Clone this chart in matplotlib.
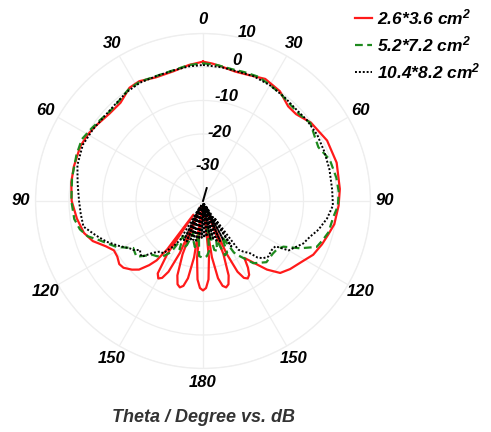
import numpy as np
import matplotlib
matplotlib.use("Agg")
import matplotlib.pyplot as plt
from matplotlib.lines import Line2D

plt.rcParams['font.family'] = ['Liberation Sans', 'DejaVu Sans']
plt.rcParams['font.weight'] = 'bold'
plt.rcParams['font.style'] = 'italic'
plt.rcParams['mathtext.fontset'] = 'custom'
plt.rcParams['mathtext.rm'] = 'Liberation Sans:bold:italic'
plt.rcParams['mathtext.it'] = 'Liberation Sans:bold:italic'
plt.rcParams['mathtext.bf'] = 'Liberation Sans:bold:italic'

# ---------------- data (theta in degrees, gain in dB) ----------------
labels = ['2.6*3.6 cm$^{2}$', '5.2*7.2 cm$^{2}$', '10.4*8.2 cm$^{2}$']

red_theta = [0, 4, 8, 14, 20, 27, 35, 42, 47, 54, 64, 74, 85, 92, 100, 105, 110,
             116, 122, 128, 133, 137, 141, 144, 146, 148, 150, 152, 154, 156, 157.5,
             159, 161, 163, 165, 167, 169, 171, 172.5, 174, 176, 178, 180, 182, 184,
             186, 187.5, 189, 191, 193, 195, 197, 199, 201, 202.5, 204, 206, 208, 210,
             212, 214, 215, 216.5, 218, 220, 223, 226, 230, 233, 237, 241, 245, 250,
             255, 262, 270, 278, 285, 294, 300, 305, 313, 320, 327, 332, 339, 347,
             354, 360]
red_db = [1.6, 1.1, 0.5, -0.2, 0.0, 0.9, 0.0, -2.0, -2.0, -0.2, 1.2, 1.5, 1.0, 0.5,
          -0.2, -1.3, -2.2, -3.4, -5.5, -7.0, -8.5, -12.0, -16.5, -19.0, -16.0, -14.0,
          -13.3, -14.0, -16.5, -23.0, -38.0, -23.0, -16.5, -14.0, -13.3, -14.0, -16.5,
          -23.0, -38.0, -23.0, -16.5, -14.0, -13.3, -14.0, -16.5, -23.0, -38.0, -23.0,
          -16.5, -14.0, -13.3, -14.0, -16.5, -23.0, -38.0, -23.0, -16.5, -14.0, -13.3,
          -14.5, -21.0, -35.0, -22.0, -17.5, -15.0, -12.0, -10.5, -9.0, -8.7, -9.5,
          -9.6, -8.0, -5.0, -3.2, -2.0, -0.8, -0.3, -0.1, 0.1, -0.3, -0.9, -1.8, -1.7,
          0.3, 0.5, -0.5, -0.3, 0.8, 1.6]

green_theta = [0, 6, 12, 18, 24, 30, 36, 42, 48, 54, 60, 65, 72, 80, 86, 92, 97, 104,
               108, 112, 116, 119.6, 123, 127, 134, 141, 146, 149, 152, 155, 158, 161,
               164, 167, 170, 173, 176, 180, 184, 187, 190, 194, 197, 200, 203, 206,
               209, 212, 216, 220, 223, 227, 230, 233, 236, 239, 242, 246, 249, 253,
               257, 262, 270, 280, 290, 297, 303, 308, 314, 320, 326, 332, 340, 347,
               354, 360]
green_db = [1.1, 0.8, 0.3, 0.4, 0.6, 0.0, -0.5, -1.2, -1.3, -0.4, -1.5, -2.0, -0.2,
            0.4, 0.6, 0.3, -0.8, -1.4, -2.4, -3.4, -7.8, -12.4, -13.6, -13.9, -13.7,
            -16.1, -20.0, -22.0, -28.0, -23.0, -22.5, -28.0, -24.5, -25.0, -32.0, -25.0,
            -23.5, -23.0, -23.5, -30.0, -26.0, -28.0, -30.0, -26.0, -24.5, -24.0, -28.0,
            -22.0, -19.5, -18.5, -18.0, -16.0, -14.1, -14.5, -14.9, -13.0, -10.8, -8.8,
            -7.1, -4.0, -2.3, -1.2, -0.7, -0.3, 0.2, 0.6, -0.3, -0.9, -1.4, -1.0, 0.0,
            0.3, -0.2, 0.0, 0.8, 1.1]

black_theta = [0, 8, 15, 22, 30, 38, 45, 52, 60, 68, 76, 85, 92, 98, 104, 108.4, 113,
               117.6, 120, 122, 125.5, 130.5, 133.5, 136, 138, 141.5, 144, 146, 148,
               150, 152.5, 155, 157, 159, 161, 163, 165, 167, 169, 171, 174, 176, 178,
               180, 182, 184, 186, 188, 190, 192, 194, 196, 198, 200, 202, 204, 206,
               208, 210.5, 213, 217.2, 220.3, 224, 227.7, 230, 232, 235, 237, 242, 247,
               252, 257.9, 264, 270, 278, 286, 295, 303, 310, 318, 325, 332, 340, 348,
               354, 360]
black_db = [0.6, 0.3, 0.0, 0.2, -0.1, -0.6, -1.0, -0.7, -0.6, -0.9, -1.1, -1.3, -1.2,
            -2.6, -4.5, -6.3, -7.5, -9.6, -10.5, -14.5, -14.8, -14.4, -15.2, -16.5,
            -19.0, -20.7, -22.0, -34.0, -24.0, -38.0, -26.9, -38.0, -27.0, -39.0, -27.5,
            -38.0, -28.0, -39.0, -28.5, -39.0, -29.3, -39.0, -29.0, -39.0, -29.0, -39.0,
            -28.5, -39.0, -28.0, -39.0, -28.0, -38.0, -27.5, -39.0, -27.0, -38.0, -27.0,
            -38.0, -26.5, -24.0, -20.4, -20.2, -18.5, -15.3, -15.5, -16.2, -14.5, -14.0,
            -11.5, -8.8, -6.5, -3.5, -3.3, -3.0, -2.2, -1.0, -0.4, -0.8, -1.2, -1.0,
            -0.3, 0.0, -0.2, 0.0, 0.4, 0.6]

spike_theta = [16, 16]
spike_db = [-40, -36]

angle_ticks = [0, 30, 60, 90, 120, 150, 180, 210, 240, 270, 300, 330]
angle_labels = ['0', '30', '60', '90', '120', '150', '180', '150', '120', '90', '60', '30']
r_ticks = [-30, -20, -10, 0, 10]
r_labels = ['-30', '-20', '-10', '0', '10']

# ---------------- figure ----------------
fig = plt.figure(figsize=(4.91, 4.32), dpi=100)
ax = fig.add_axes([0.0723, 0.147, 0.6823, 0.7755], projection='polar')
ax.set_theta_zero_location('N')
ax.set_theta_direction(-1)
ax.set_rlim(-40, 10)

grid_col = '#eeeeee'
ax.set_xticks(np.deg2rad(angle_ticks))
ax.set_xticklabels([])
ax.set_yticks(r_ticks)
ax.set_yticklabels([])
ax.grid(True, color=grid_col, lw=0.9)
ax.spines['polar'].set_color(grid_col)
ax.spines['polar'].set_linewidth(0.9)

ax.plot(np.deg2rad(red_theta), red_db, color='#ff1a1a', lw=1.6, label=labels[0])
ax.plot(np.deg2rad(green_theta), green_db, color='#1e8a1e', lw=1.6,
        linestyle=(0, (3.5, 2.0)), label=labels[1])
ax.plot(np.deg2rad(black_theta), black_db, color='black', lw=1.4,
        linestyle=(0, (1, 1)), label=labels[2])
ax.plot(np.deg2rad(spike_theta), spike_db, color='black', lw=1.4)

# angular labels
for a, lab in zip(angle_ticks, angle_labels):
    ax.text(np.deg2rad(a), 14.3, lab, ha='center', va='center', fontsize=12,
            fontweight='bold', fontstyle='italic', clip_on=False)

# radial labels
r_label_pos = [(8, -29.2), (13.8, -18.8), (13.0, -8.1), (13.6, 3.0), (14.6, 12.1)]
for (a, rr), lab in zip(r_label_pos, r_labels):
    ax.text(np.deg2rad(a), rr, lab, ha='center', va='center', fontsize=12,
            fontweight='bold', fontstyle='italic', clip_on=False)

handles = [Line2D([], [], color='#ff1a1a', lw=1.6),
           Line2D([], [], color='#1e8a1e', lw=1.6, linestyle=(0, (3.5, 2.0))),
           Line2D([], [], color='black', lw=1.4, linestyle=(0, (1, 1)))]
fig.legend(handles, labels, loc='upper left', bbox_to_anchor=(355 / 491, 1 - 7 / 432),
           frameon=False, handlelength=1.0, handletextpad=0.25,
           borderpad=0, borderaxespad=0, labelspacing=0.42,
           prop={'weight': 'bold', 'style': 'italic', 'size': 12.5})

fig.text(203 / 491, 1 - 417 / 432, 'Theta / Degree vs. dB', ha='center', va='center',
         fontsize=13, fontweight='bold', fontstyle='italic', color='#333333')

fig.savefig('out.png', dpi=100)
